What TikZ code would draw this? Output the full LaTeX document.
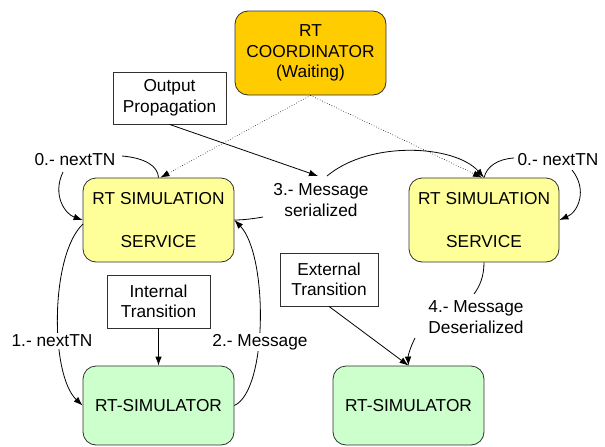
\documentclass[tikz,border=0pt]{standalone}
\usepackage{fontspec}
\setmainfont{Liberation Sans}
\usetikzlibrary{arrows.meta,calc}
\definecolor{coordfill}{HTML}{FFCC00}
\definecolor{svcfill}{HTML}{FFFF99}
\definecolor{simfill}{HTML}{CCFFCC}
\definecolor{edgegray}{HTML}{303030}
\begin{document}
\begin{tikzpicture}[x=1pt,y=-1pt,
  font=\fontsize{17.3}{20.5}\selectfont,
  rbox/.style={draw=edgegray,line width=0.8pt,rounded corners=13pt,align=center,inner sep=0pt},
  tbox/.style={draw=edgegray,line width=0.8pt,fill=white,align=center,inner sep=0pt},
  lbl/.style={fill=white,align=center,inner sep=1.5pt},
  conn/.style={line width=0.8pt,-{Latex[length=9pt,width=6.5pt]}},
  plain/.style={line width=0.8pt},
  dotconn/.style={line width=0.6pt,dotted,-{Latex[length=9pt,width=6.5pt]}}]
\useasboundingbox (0,0) rectangle (605,447);
% boxes
\node[rbox,fill=coordfill,minimum width=151,minimum height=84] (coord) at (310.5,53) {RT\\COORDINATOR\\(Waiting)};
\node[tbox,minimum width=113,minimum height=52] (outp) at (169.5,98) {Output\\Propagation};
\node[rbox,fill=svcfill,minimum width=151,minimum height=84] (lsvc) at (158.5,220) {RT SIMULATION\\[22pt]SERVICE};
\node[rbox,fill=svcfill,minimum width=150,minimum height=84] (rsvc) at (484,220) {RT SIMULATION\\[22pt]SERVICE};
\node[tbox,minimum width=103,minimum height=53] (intt) at (158.5,301.5) {Internal\\Transition};
\node[tbox,minimum width=98,minimum height=53] (extt) at (329,279.5) {External\\Transition};
\node[rbox,fill=simfill,minimum width=151,minimum height=79] (lsim) at (158.5,405.5) {RT-SIMULATOR};
\node[rbox,fill=simfill,minimum width=151,minimum height=79] (rsim) at (408.5,405.5) {RT-SIMULATOR};
% labels
\node[lbl] (l0) at (75,160) {0.- nextTN};
\node[lbl] (r0) at (558,160) {0.- nextTN};
\node[lbl] (l3) at (321,200) {3.- Message\\serialized};
\node[lbl] (l4) at (476,317) {4.- Message\\Deserialized};
% free ends
\coordinate (l0a) at (122,156);
\coordinate (l0b) at (63,172);
\coordinate (r0a) at (514,158);
\coordinate (r0b) at (572,170);
\coordinate (l3a) at (327,176);
\coordinate (l3b) at (263,217);
\coordinate (l3t) at (318,176);
\coordinate (l4a) at (474,294);
\coordinate (l4b) at (415,338);
\coordinate (ls1) at (83,224);
% dotted
\draw[dotconn] (coord.south) -- ([xshift=2]lsvc.north);
\draw[dotconn] (coord.south) -- ([xshift=-2]rsvc.north);
% 0.- loops
\draw[plain] (l0a) .. controls (145,158) and (158,166) .. (lsvc.north);
\draw[conn] (l0b) .. controls (52,195) and (65,214) .. (lsvc.west);
\draw[plain] (rsvc.north) .. controls (487,166) and (498,159) .. (r0a);
\draw[conn] (r0b) .. controls (588,190) and (578,212) .. (rsvc.east);
% 1 and 2
\draw[conn] (ls1) .. controls (50,255) and (50,375) .. (lsim.west);
\node[lbl] (l1) at (52,341) {1.- nextTN};
\draw[conn] (lsim.east) .. controls (268,390) and (268,255) .. (lsvc.east);
\node[lbl] (l2) at (260,342) {2.- Message};
% 3
\draw[conn] (outp.south) -- (l3t);
\draw[plain] (l3b) .. controls (252,219) and (242,220) .. (lsvc.east);
\draw[conn] (l3a) .. controls (370,140) and (455,145) .. (rsvc.north);
% internal / external
\draw[conn] (intt.south) -- (lsim.north);
\draw[conn] (extt.south) -- (rsim.north);
% 4
\draw[plain] (rsvc.south) .. controls (484,276) and (480,286) .. (l4a);
\draw[conn] (l4b) .. controls (410,348) and (408,356) .. (rsim.north);
\end{tikzpicture}
\end{document}
